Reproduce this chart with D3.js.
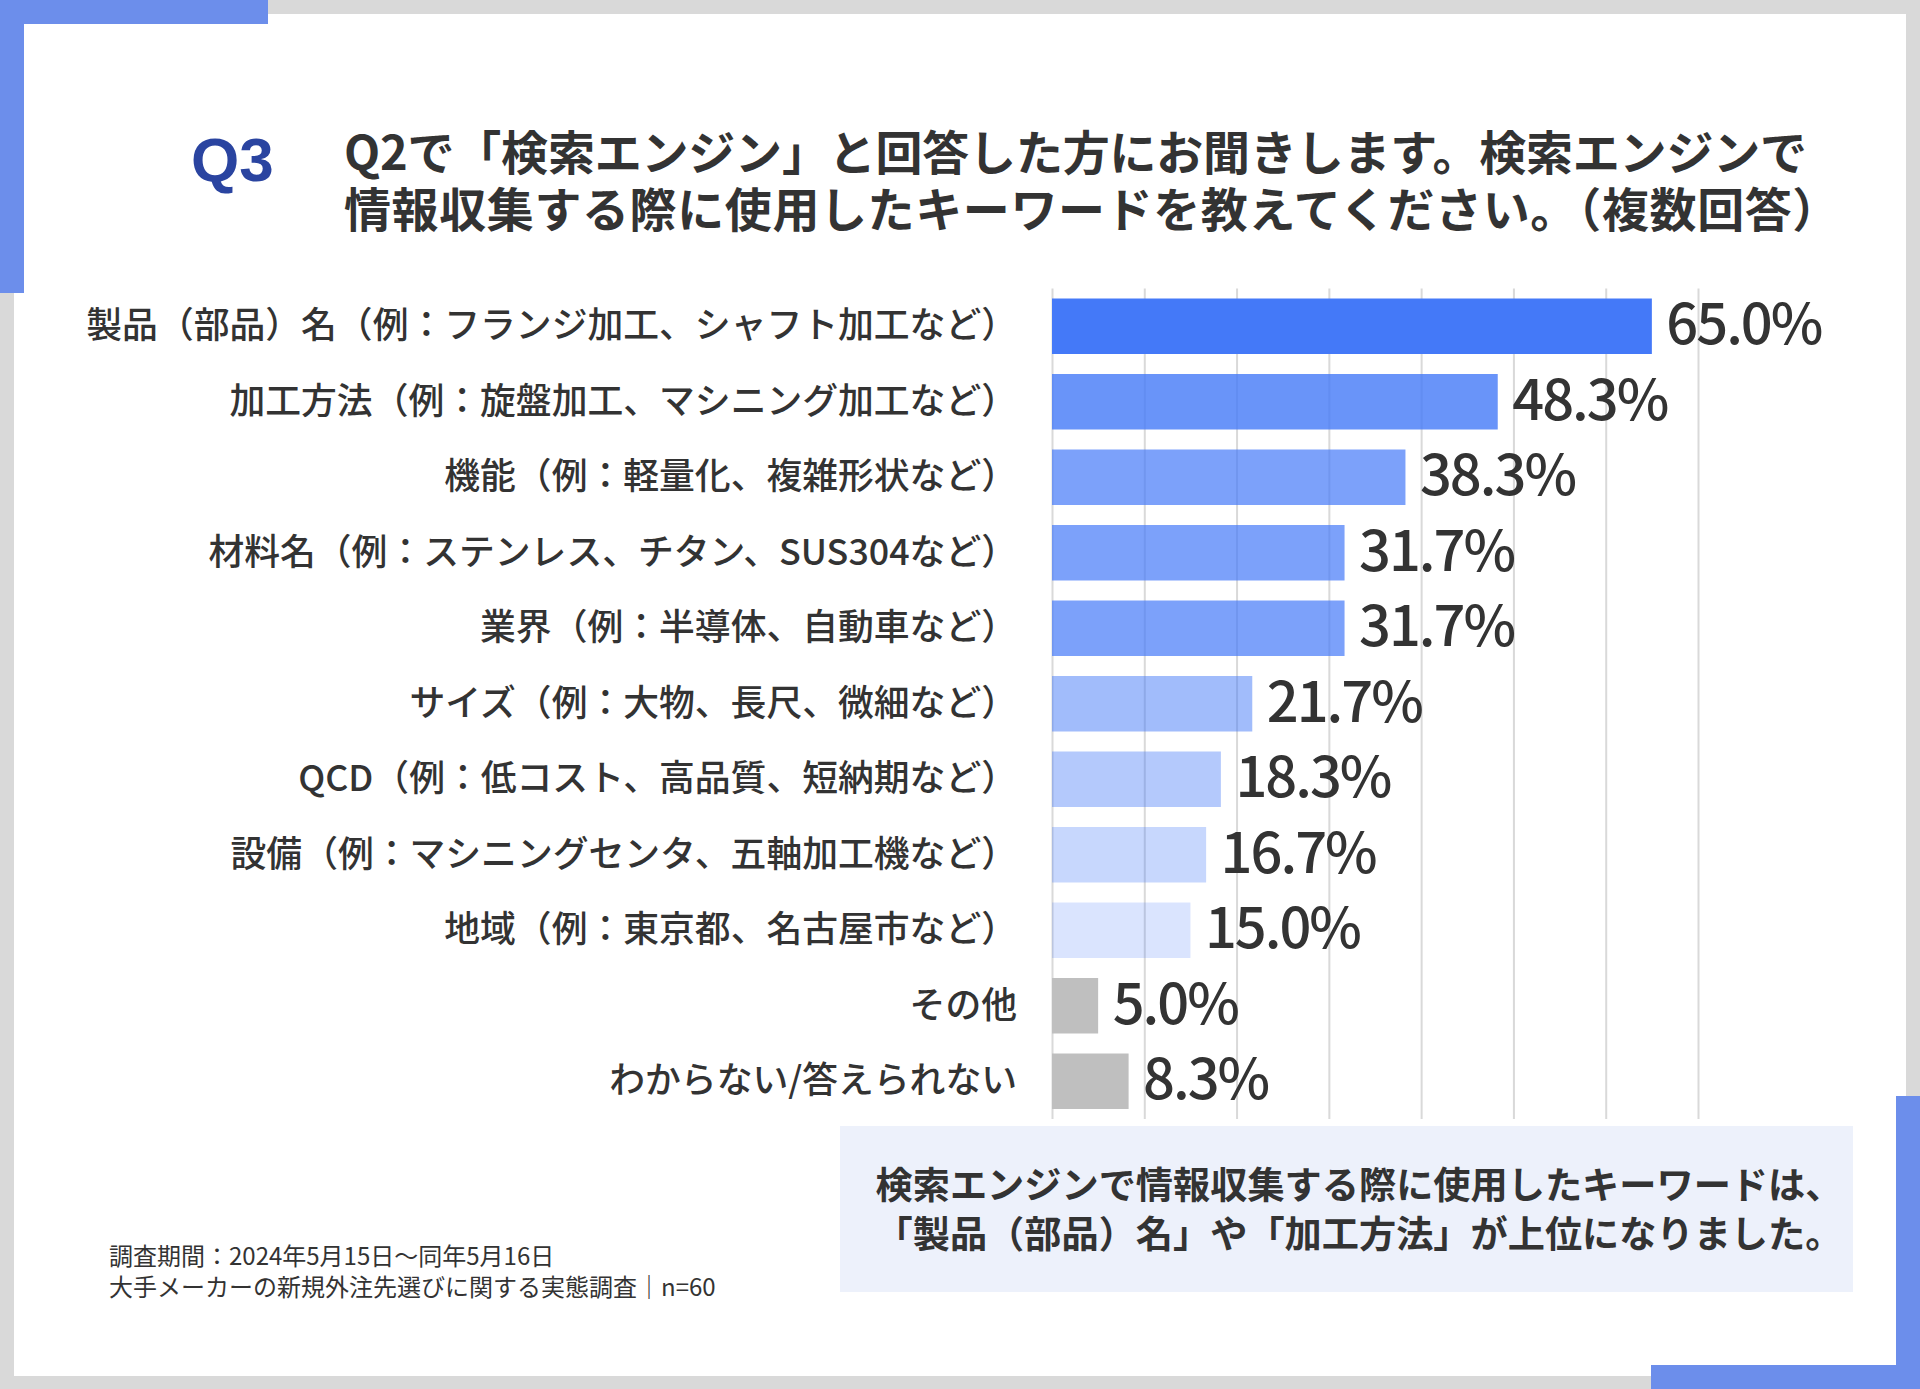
<!DOCTYPE html>
<html lang="ja">
<head>
<meta charset="utf-8">
<script src="https://cdn.jsdelivr.net/npm/d3@7"></script>
<style>
  html, body { margin: 0; padding: 0; background: #d9d9d9; }
  svg { display: block; }
  text { font-family: "Noto Sans CJK JP", "Noto Sans", sans-serif; }
</style>
</head>
<body>
<svg id="chart" width="1920" height="1389"></svg>
<script>
// ---- data ----
const categories = [
  "製品（部品）名（例：フランジ加工、シャフト加工など）",
  "加工方法（例：旋盤加工、マシニング加工など）",
  "機能（例：軽量化、複雑形状など）",
  "材料名（例：ステンレス、チタン、SUS304など）",
  "業界（例：半導体、自動車など）",
  "サイズ（例：大物、長尺、微細など）",
  "QCD（例：低コスト、高品質、短納期など）",
  "設備（例：マシニングセンタ、五軸加工機など）",
  "地域（例：東京都、名古屋市など）",
  "その他",
  "わからない/答えられない"
];
const values = [65.0, 48.3, 38.3, 31.7, 31.7, 21.7, 18.3, 16.7, 15.0, 5.0, 8.3];
const gridTicks = [0, 10, 20, 30, 40, 50, 60, 70];
const qLabel = "Q3";
const titleLines = [
  "Q2で「検索エンジン」と回答した方にお聞きします。検索エンジンで",
  "情報収集する際に使用したキーワードを教えてください。（複数回答）"
];
const summaryLines = [
  "検索エンジンで情報収集する際に使用したキーワードは、",
  "「製品（部品）名」や「加工方法」が上位になりました。"
];
const footnoteLines = [
  "調査期間：2024年5月15日〜同年5月16日",
  "大手メーカーの新規外注先選びに関する実態調査｜n=60"
];

// ---- styles ----
const BLUE = "#4479F8";
const GRAY_BAR = "#BFBFBF";
const blueOpacity = [1, 0.8, 0.7, 0.7, 0.7, 0.5, 0.4, 0.3, 0.2];
const DECO = "#6C8EEB";
const TEXT = "#333333";

const svg = d3.select("#chart");

// background frame
svg.append("rect").attr("x", 0).attr("y", 0).attr("width", 1920).attr("height", 1389).attr("fill", "#d9d9d9");
svg.append("rect").attr("x", 14).attr("y", 14).attr("width", 1892).attr("height", 1362).attr("fill", "#ffffff");
// decorative corners
svg.append("rect").attr("x", 0).attr("y", 0).attr("width", 268).attr("height", 24).attr("fill", DECO);
svg.append("rect").attr("x", 0).attr("y", 0).attr("width", 24).attr("height", 293).attr("fill", DECO);
svg.append("rect").attr("x", 1651).attr("y", 1365).attr("width", 269).attr("height", 24).attr("fill", DECO);
svg.append("rect").attr("x", 1896).attr("y", 1096).attr("width", 24).attr("height", 293).attr("fill", DECO);

// header
svg.append("text").attr("x", 191).attr("y", 181)
  .style("font-family", "'Liberation Sans', Arial, sans-serif")
  .attr("font-size", 62).attr("font-weight", 700).attr("fill", "#2A44A0")
  .text(qLabel);

const title = svg.append("text")
  .attr("font-size", 47).attr("font-weight", 700).attr("fill", TEXT);
title.selectAll("tspan").data(titleLines).join("tspan")
  .attr("x", 344).attr("y", (d, i) => 170 + i * 57)
  .attr("letter-spacing", (d, i) => i === 1 ? 0.6 : -0.2)
  .text(d => d);

// scales
const x = d3.scaleLinear().domain([0, 70]).range([1052, 1698]);
const y = d3.scaleBand().domain(categories).range([288.5, 1119])
  .paddingInner(0.265).paddingOuter(0.1325);

// gridlines via axis
const grid = svg.append("g").attr("transform", `translate(0,${y.range()[0]})`)
  .call(d3.axisTop(x).tickValues(gridTicks).tickSize(-(y.range()[1] - y.range()[0])).tickFormat(""));
grid.select(".domain").remove();
grid.selectAll(".tick line").attr("stroke", "#d9d9d9").attr("stroke-width", 2);

// bars
svg.append("g").selectAll("rect").data(values).join("rect")
  .attr("x", x(0))
  .attr("y", (d, i) => y(categories[i]))
  .attr("width", d => x(d) - x(0))
  .attr("height", y.bandwidth())
  .attr("fill", (d, i) => i < blueOpacity.length ? BLUE : GRAY_BAR)
  .attr("fill-opacity", (d, i) => i < blueOpacity.length ? blueOpacity[i] : 1);

// value labels
svg.append("g").selectAll("text").data(values).join("text")
  .attr("x", d => x(d) + 14.5)
  .attr("y", (d, i) => y(categories[i]) + y.bandwidth() / 2 + 18)
  .attr("font-size", 56).attr("font-weight", 500).attr("fill", TEXT)
  .attr("letter-spacing", -2)
  .text(d => d.toFixed(1) + "%");

// category labels
svg.append("g").selectAll("text").data(categories).join("text")
  .attr("x", 1017)
  .attr("y", d => y(d) + y.bandwidth() / 2 + 12)
  .attr("text-anchor", "end")
  .attr("font-size", 35.8).attr("font-weight", 500).attr("fill", TEXT)
  .text(d => d);

// summary box
svg.append("rect").attr("x", 840).attr("y", 1126).attr("width", 1013).attr("height", 166).attr("fill", "#EDF1FB");
const summary = svg.append("text")
  .attr("text-anchor", "middle")
  .attr("font-size", 37.2).attr("font-weight", 700).attr("fill", TEXT);
summary.selectAll("tspan").data(summaryLines).join("tspan")
  .attr("x", 1359).attr("y", (d, i) => 1199 + i * 49)
  .text(d => d);

// footnote
const foot = svg.append("text")
  .attr("font-size", 24).attr("font-weight", 400).attr("fill", TEXT);
foot.selectAll("tspan").data(footnoteLines).join("tspan")
  .attr("x", 109).attr("y", (d, i) => 1265 + i * 30.5)
  .text(d => d);
</script>
</body>
</html>
